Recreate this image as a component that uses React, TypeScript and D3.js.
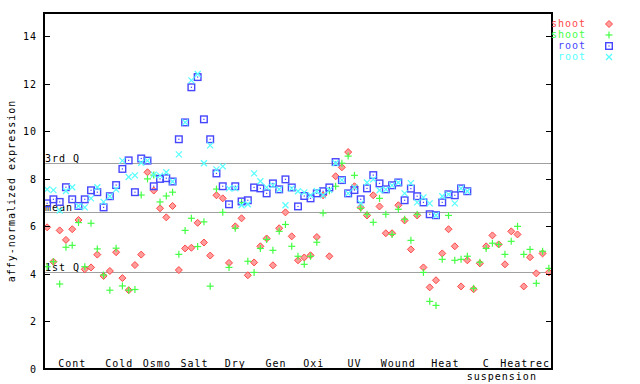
import React from "react";
import * as d3 from "d3";

// groups of samples along x (name, number of samples)
const groupNames = ["Cont", "Cold", "Osmo", "Salt", "Dry", "Gen", "Oxi", "UV", "Wound", "Heat", "C", "Heat", "rec"];
const groupSizes = [9, 6, 6, 6, 7, 6, 6, 7, 7, 8, 5, 4, 4];
const groupSubLabels = ["", "", "", "", "", "", "", "", "", "", "suspension", "", ""];

const yTicks = [0, 2, 4, 6, 8, 10, 12, 14];

// horizontal reference lines
const refNames = ["3rd Q", "mean", "1st Q"];
const refValues = [8.67, 6.6, 4.07];

const seriesNames = ["shoot", "shoot", "root", "root"];

// shoot (red diamonds)
const shootA = [
  5.97, 4.52, 5.84, 5.44, 5.89, 6.28, 4.2, 4.28, 4.82,
  3.92, 4.13, 4.92, 3.83, 3.32, 4.38,
  4.82, 8.29, 7.52, 6.77, 6.39, 6.87,
  4.17, 5.08, 5.11, 6.16, 5.33, 4.78,
  7.32, 7.19, 4.47, 6.01, 6.35, 3.95, 4.49,
  5.17, 5.5, 4.37, 5.93, 6.6, 5.59,
  4.58, 4.7, 4.79, 5.56, 7.32, 4.75,
  8.12, 8.5, 9.14, 7.7, 6.81, 6.47, 7.32,
  6.85, 5.72, 5.72, 6.9, 6.26, 5.04, 6.47,
  4.28, 3.44, 3.74, 4.87, 5.89, 5.17, 3.48, 4.58,
  3.36, 4.45, 5.17, 5.63, 5.25,
  4.41, 5.8, 5.67, 3.48,
  4.71, 4.03, 4.87, 4.07,
];

// shoot (green plus)
const shootB = [
  4.31, 4.52, 3.58, 5.13, 5.21, 6.17, 4.31, 6.14, 5.06,
  3.96, 3.32, 5.09, 3.5, 3.32, 3.35,
  7.33, 8.01, 8.17, 7.04, 7.29, 7.45,
  4.83, 5.84, 6.35, 5.16, 6.2, 3.49,
  7.58, 6.6, 4.28, 5.93, 7.02, 4.54, 4.07,
  5.08, 5.46, 5.0, 5.8, 6.09, 5.17,
  4.75, 4.41, 4.75, 5.34, 6.57, 7.51,
  7.7, 8.67, 8.97, 8.16, 6.77, 6.52, 6.18,
  7.19, 6.52, 5.67, 6.73, 6.31, 5.42, 6.52,
  4.07, 2.85, 2.68, 4.62, 6.47, 4.58, 4.62, 4.75,
  3.4, 4.5, 5.08, 5.3, 5.25,
  4.83, 5.38, 6.01, 4.83,
  5.04, 3.61, 4.96, 4.24,
];

// root (blue squares), no values for the last groups
const rootA: (number | null)[] = [
  6.98, 7.15, 7.04, 7.66, 7.15, 6.87, 7.15, 7.53, 7.45,
  6.81, 7.28, 7.75, 8.43, 8.79, 7.45,
  8.87, 8.78, 7.7, 8.01, 8.04, 7.9,
  9.68, 10.39, 11.87, 12.3, 10.52, 9.68,
  8.24, 7.7, 6.94, 7.7, 7.06, 7.11, 7.65,
  7.61, 7.4, 7.82, 7.57, 7.99, 7.65,
  6.85, 7.29, 7.19, 7.4, 7.49, 7.65,
  8.72, 7.96, 7.4, 7.54, 7.15, 7.61, 8.17,
  7.82, 7.57, 7.74, 7.86, 7.11, 7.6, 7.28,
  7.02, 6.52, 6.48, 7.02, 7.36, 7.32, 7.61, 7.49,
  null, null, null, null, null,
  null, null, null, null,
  null, null, null, null,
];

// root (cyan crosses)
const rootB: (number | null)[] = [
  7.57, 7.54, 6.68, 7.5, 7.66, 6.87, 6.81, 7.19, 7.66,
  7.04, 7.28, 7.57, 8.78, 8.09, 8.16,
  8.69, 8.78, 8.19, 8.15, 8.29, 7.9,
  9.04, 10.39, 12.16, 12.43, 8.67, 9.42,
  8.41, 8.54, 7.61, 7.61, 6.9, 6.94, 8.24,
  7.91, 7.65, 7.74, 7.57, 6.9, 7.61,
  7.49, 7.44, 7.32, 7.49, 7.32, 7.54,
  8.67, 7.96, 7.4, 7.65, 6.98, 7.86, 7.99,
  7.53, 7.57, 7.74, 7.86, 7.4, 7.83, 7.02,
  7.23, 6.98, 6.48, 7.28, 7.36, 6.98, 7.61, 7.49,
  null, null, null, null, null,
  null, null, null, null,
  null, null, null, null,
];

const RED = "#ff4848";
const GREEN = "#44ff44";
const BLUE = "#4646ff";
const CYAN = "#55ffff";
const GRID = "#a0a0a0";
const FONT = "'DejaVu Sans Mono', monospace";

const W = 640;
const H = 384;
const plot = { left: 44, right: 552, top: 13, bottom: 369 };

const Marker: React.FC<{ kind: number }> = ({ kind }) => {
  if (kind === 0)
    return <path d="M0,-3.5L3.5,0L0,3.5L-3.5,0Z" fill="#ff9c9c" stroke={RED} strokeWidth={1} />;
  if (kind === 1)
    return (
      <g stroke={GREEN} strokeWidth={1.2}>
        <line x1={-3.5} x2={3.5} y1={0} y2={0} />
        <line x1={0} x2={0} y1={-3.5} y2={3.5} />
      </g>
    );
  if (kind === 2)
    return (
      <g>
        <rect x={-3.3} y={-3.3} width={6.6} height={6.6} fill="none" stroke={BLUE} strokeWidth={1.4} />
        <rect x={-0.6} y={-0.6} width={1.2} height={1.2} fill={BLUE} />
      </g>
    );
  return (
    <g stroke={CYAN} strokeWidth={1.2}>
      <line x1={-3} x2={3} y1={-3} y2={3} />
      <line x1={-3} x2={3} y1={3} y2={-3} />
    </g>
  );
};

const App: React.FC = () => {
  const total = d3.sum(groupSizes);
  const x = d3.scaleLinear().domain([0, total]).range([plot.left, plot.right]);
  const y = d3.scaleLinear().domain([0, 15]).range([plot.bottom, plot.top]);

  const starts = d3.cumsum([0, ...groupSizes.slice(0, -1)]);
  const series = [shootA, shootB, rootA, rootB];
  const colors = [RED, GREEN, BLUE, CYAN];

  return (
    <svg
      width={W}
      height={H}
      style={{ position: "absolute", left: 0, top: 0, background: "#fff" }}
      fontFamily={FONT}
      fontSize={10}
      letterSpacing={1}
    >
      <rect width={W} height={H} fill="#fff" />

      {/* group separators */}
      {starts.slice(1).map((s, i) => (
        <line key={"sep" + i} x1={x(s)} x2={x(s)} y1={plot.top} y2={plot.bottom} stroke={GRID} shapeRendering="crispEdges" />
      ))}

      {/* quartile / mean lines */}
      {refValues.map((v, i) => (
        <g key={"ref" + i}>
          <line x1={plot.left} x2={plot.right} y1={y(v)} y2={y(v)} stroke={GRID} shapeRendering="crispEdges" />
          <text x={plot.left + 1} y={y(v) - 1} fill="#000">{refNames[i]}</text>
        </g>
      ))}

      {/* points */}
      {series.map((vals, si) =>
        vals.map((v, i) =>
          v == null ? null : (
            <g key={`p${si}-${i}`} transform={`translate(${x(i + 0.5)},${y(v)})`}>
              <Marker kind={si} />
            </g>
          )
        )
      )}

      {/* frame */}
      <rect
        x={plot.left}
        y={plot.top}
        width={plot.right - plot.left}
        height={plot.bottom - plot.top}
        fill="none"
        stroke="#000"
        strokeWidth={1.2}
        shapeRendering="crispEdges"
      />

      {/* y ticks */}
      {yTicks.map((t) => (
        <g key={"yt" + t}>
          <line x1={plot.left} x2={plot.left + 6} y1={y(t)} y2={y(t)} stroke="#000" shapeRendering="crispEdges" />
          <line x1={plot.right - 6} x2={plot.right} y1={y(t)} y2={y(t)} stroke="#000" shapeRendering="crispEdges" />
          <text x={37} y={y(t)} dy="0.35em" textAnchor="end" fill="#000">{t}</text>
        </g>
      ))}

      {/* group labels */}
      {groupNames.map((g, i) => {
        const cx = x(starts[i] + groupSizes[i] / 2);
        return (
          <g key={"gl" + i}>
            <text x={cx} y={plot.bottom - 2} textAnchor="middle" fill="#000">{g}</text>
            {groupSubLabels[i] && (
              <text x={x(starts[i] + groupSizes[i])} y={plot.bottom + 11} textAnchor="middle" fill="#000">
                {groupSubLabels[i]}
              </text>
            )}
          </g>
        );
      })}

      {/* y axis title */}
      <text
        transform={`translate(15,${(plot.top + plot.bottom) / 2}) rotate(-90)`}
        textAnchor="middle"
        fill="#000"
      >
        affy-normalized expression
      </text>

      {/* legend */}
      {seriesNames.map((n, i) => (
        <g key={"lg" + i}>
          <text x={586} y={27 + i * 11} textAnchor="end" fill={colors[i]}>{n}</text>
          <g transform={`translate(609,${24 + i * 11})`}>
            <Marker kind={i} />
          </g>
        </g>
      ))}
    </svg>
  );
};

export default App;
